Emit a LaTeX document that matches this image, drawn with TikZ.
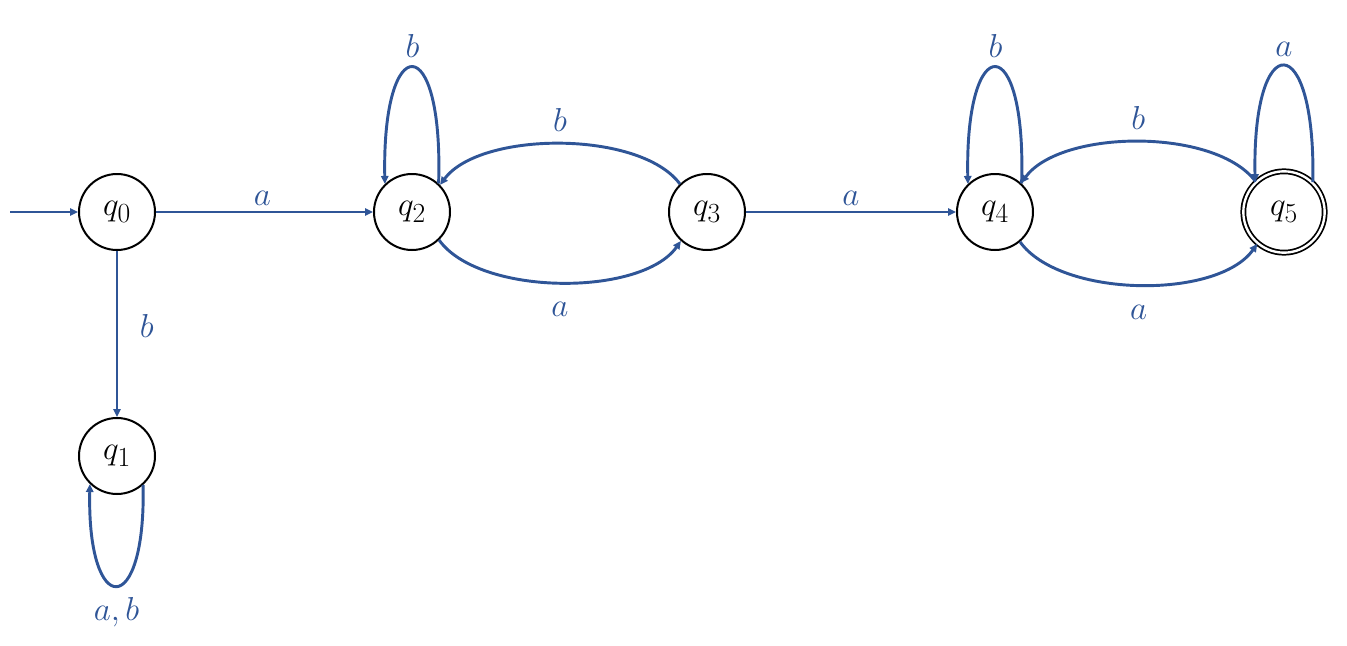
\documentclass[tikz,border=0pt]{standalone}
\usetikzlibrary{arrows.meta}
\definecolor{edgeblue}{HTML}{2F5597}
\begin{document}
\begin{tikzpicture}[x=0.75pt,y=-0.75pt,
  state/.style={circle,draw=black,line width=1.5pt,minimum size=57pt,inner sep=0pt,font=\fontsize{24.88}{28}\selectfont},
  accepting/.style={double,double distance=1.8pt,line width=1.3pt,minimum size=61pt},
  edge/.style={draw=edgeblue,line width=2.2pt,-{Triangle[length=6pt,width=5.5pt]}},
  lbl/.style={text=edgeblue,font=\fontsize{24.88}{28}\selectfont,inner sep=0pt}]
\useasboundingbox (0,0) rectangle (1347,646);
\node[state] (q0) at (117,212) {$q_0$};
\node[state] (q1) at (117,456) {$q_1$};
\node[state] (q2) at (412,212) {$q_2$};
\node[state] (q3) at (707,212) {$q_3$};
\node[state] (q4) at (995,212) {$q_4$};
\node[state,accepting] (q5) at (1284,212) {$q_5$};
\coordinate (init) at (10,212);
% edges
\draw[edge] (init) -- (q0);
\draw[edge] (q0) -- node[lbl,pos=0.49,above=4pt] {$a$} (q2);
\draw[edge] (q0) -- node[lbl,pos=0.45,right=16pt] {$b$} (q1);
\draw[edge] (q3) -- node[lbl,pos=0.5,above=4pt] {$a$} (q4);
% loops
\draw[edge] (q1.-48) .. controls +(3,135) and +(-3,135) .. node[lbl,pos=0.5,below=8pt] {$a,b$} (q1.-134);
\draw[edge] (q2.47) .. controls +(5,-155) and +(-3,-155) .. node[lbl,pos=0.5,above=6pt] {$b$} (q2.134);
\draw[edge] (q4.47) .. controls +(5,-155) and +(-3,-155) .. node[lbl,pos=0.5,above=6pt] {$b$} (q4.134);
\draw[edge] (q5.46) .. controls +(3,-155) and +(-3,-155) .. node[lbl,pos=0.5,above=6pt] {$a$} (q5.134);
% arcs between q2,q3
\draw[edge] (q3.134) .. controls +(-40,-54) and +(40,-54) .. node[lbl,pos=0.5,above=8pt] {$b$} (q2.44);
\draw[edge] (q2.-46) .. controls +(40,56) and +(-40,56) .. node[lbl,pos=0.5,below=14pt] {$a$} (q3.-132);
% arcs between q4,q5
\draw[edge] (q5.133) .. controls +(-40,-54) and +(40,-54) .. node[lbl,pos=0.5,above=8pt] {$b$} (q4.48);
\draw[edge] (q4.-50) .. controls +(40,56) and +(-40,56) .. node[lbl,pos=0.5,below=14pt] {$a$} (q5.-130);
\end{tikzpicture}
\end{document}
